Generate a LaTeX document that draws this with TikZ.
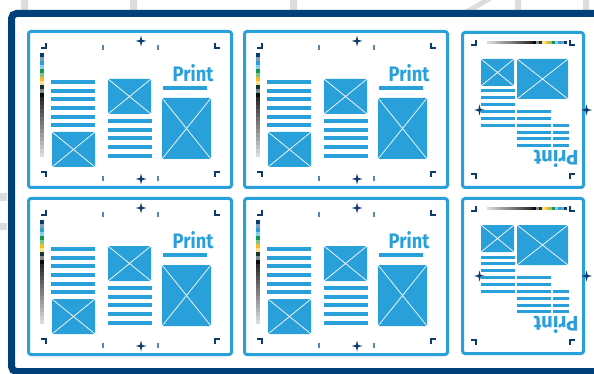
\documentclass[tikz,border=0pt]{standalone}
\usepackage{fontspec}
\newfontfamily\printfont{Fira Sans}
\definecolor{pblue}{HTML}{29A0DA}
\definecolor{navy}{HTML}{00417A}
\definecolor{markc}{HTML}{0D3B6B}
\definecolor{tickc}{HTML}{5C86B0}
\definecolor{bggray}{HTML}{DDDDDD}
\definecolor{cbA}{HTML}{0B3C6E}
\definecolor{cbB}{HTML}{7E9DBD}
\definecolor{cbC}{HTML}{2C9FD9}
\definecolor{cbD}{HTML}{86CDEF}
\definecolor{cbE}{HTML}{17994A}
\definecolor{cbF}{HTML}{7CC58F}
\definecolor{cbG}{HTML}{F7B926}
\definecolor{cbH}{HTML}{FDDD86}
\definecolor{cbI}{HTML}{17332E}
\definecolor{cbJ}{HTML}{7D8A89}
\definecolor{cbK}{HTML}{0A0A0A}
\newcommand\imgbx[4]{\fill[imgfill] (#1,#2) rectangle (#3,#4); \draw[xcross] (#1,#2)--(#3,#4) (#1,#4)--(#3,#2);}
\newcommand\regmk[2]{\fill[markc,shift={(#1,#2)}] (0,-5.5)--(1.1,-1.1)--(5.5,0)--(1.1,1.1)--(0,5.5)--(-1.1,1.1)--(-5.5,0)--(-1.1,-1.1)--cycle (0,0) circle (1.7);}
\tikzset{
  panel/.style={draw=pblue, line width=3pt, rounded corners=2.5pt, fill=white},
  imgfill/.style={fill=pblue, rounded corners=1.2pt},
  xcross/.style={draw=white, line width=0.7pt},
  cropm/.style={draw=markc, line width=1.2pt},
  tickm/.style={draw=tickc, line width=1.2pt},
  txtline/.style={fill=pblue},
  printtxt/.style={text=pblue, font=\printfont\bfseries\fontsize{21}{21}\selectfont, inner sep=0pt, xscale=0.87},
  landpage/.pic={
    \draw[panel] (28.5,31.5) rectangle (231.5,187.5);
    % crop marks
    \draw[cropm] (41,48)--(46,48)--(46,43);
    \draw[cropm] (215,43)--(215,48)--(220,48);
    \draw[cropm] (41,172)--(46,172)--(46,177);
    \draw[cropm] (220,172)--(215,172)--(215,177);
    % ticks
    \draw[tickm] (103,45)--(103,50) (158,45)--(158,50) (103,176)--(103,181) (158,176)--(158,181);
    % registration marks
    \regmk{141}{41}
    \regmk{141}{179}
    % colour bar
    \foreach \c [count=\i from 0] in {cbA,cbB,cbC,cbD,cbE,cbF,cbG,cbH,cbI,cbJ,cbK}
      \fill[\c] (40,53+4*\i) rectangle (44,57+4*\i);
    \foreach \i in {0,...,14}{
      \pgfmathtruncatemacro\p{83-\i*68/14}
      \fill[black!\p] (40,97+4*\i) rectangle (44,101+4*\i);
    }
    % text column 1
    \foreach \y in {82,90.7,99.3,108,116.7,125.3}
      \fill[txtline] (51,\y-2) rectangle (95,\y+2);
    \imgbx{52}{132}{95}{167}
    % middle column
    \imgbx{108}{79}{151}{114}
    \foreach \y in {121,129.7,138.3,147,155.7}
      \fill[txtline] (108,\y-2) rectangle (152,\y+2);
    % right column
    \node[printtxt] (-print) at (193,73.5) {Print};
    \fill[txtline] (163,86) rectangle (207,90);
    \imgbx{162}{98}{211}{159}
  },
  portpage/.pic={
    \draw[panel] (462.5,32.5) rectangle (583.5,187.5);
    \draw[cropm] (471,45)--(476,45)--(476,40);
    \draw[cropm] (570,40)--(570,45)--(575,45);
    \draw[cropm] (471,174)--(476,174)--(476,179);
    \draw[cropm] (575,174)--(570,174)--(570,179);
    \foreach \i in {0,...,14}{
      \pgfmathtruncatemacro\p{15+\i*68/14}
      \fill[black!\p] ({487+3.08*\i},41) rectangle ({490.1+3.08*\i},44);
    }
    \foreach \c [count=\i from 0] in {cbK,cbJ,cbI,cbH,cbG,cbF,cbE,cbD,cbC,cbB,cbA}
      \fill[\c] ({533.2+3.08*\i},41) rectangle ({536.3+3.08*\i},44);
    \regmk{479.5}{110}
    \regmk{586.5}{110}
    \imgbx{481}{59}{514}{86}
    \imgbx{517}{59}{568}{99}
    \foreach \y in {91,97.9,104.8,111.6,118.5,125.4}
      \fill[txtline] (481,\y-1.5) rectangle (515,\y+1.5);
    \foreach \y in {111.6,118.5,125.4,132.2,139,145.8}
      \fill[txtline] (517,\y-1.5) rectangle (551,\y+1.5);
    \foreach \y in {125.4,132.2,139,145.8}
      \fill[txtline] (553,\y-1.5) rectangle (569,\y+1.5);
    \node[printtxt, rotate=180, xscale=1.1] (-print) at (556,158.5) {Print};
  }
}
\begin{document}
\begin{tikzpicture}[x=1pt,y=-1pt]
\useasboundingbox (0,0) rectangle (594,374);
\clip (0,0) rectangle (594,374);
\fill[white] (0,0) rectangle (594,374);
% faint background pieces
\fill[bggray] (21,0) rectangle (28,10) (130,0) rectangle (137,10) (290,0) rectangle (297,10)
  (515,0) rectangle (521,10) (583,0) rectangle (589,10)
  (0,193) rectangle (7,201) (0,223) rectangle (7,230);
\fill[bggray] (465,10)--(475,10)--(492,0)--(482,0)--cycle;
% outer frame
\draw[navy, line width=7pt, rounded corners=5pt, fill=white] (11.5,13.5) rectangle (640,371.5);
% pages
\pic (pa) at (0,0) {landpage};
\pic (pb) at (216,0) {landpage};
\pic (pc) at (0,0) {portpage};
\pic (pd) at (0,167) {landpage};
\pic (pe) at (216,167) {landpage};
\pic (pf) at (0,166) {portpage};
\end{tikzpicture}
\end{document}
